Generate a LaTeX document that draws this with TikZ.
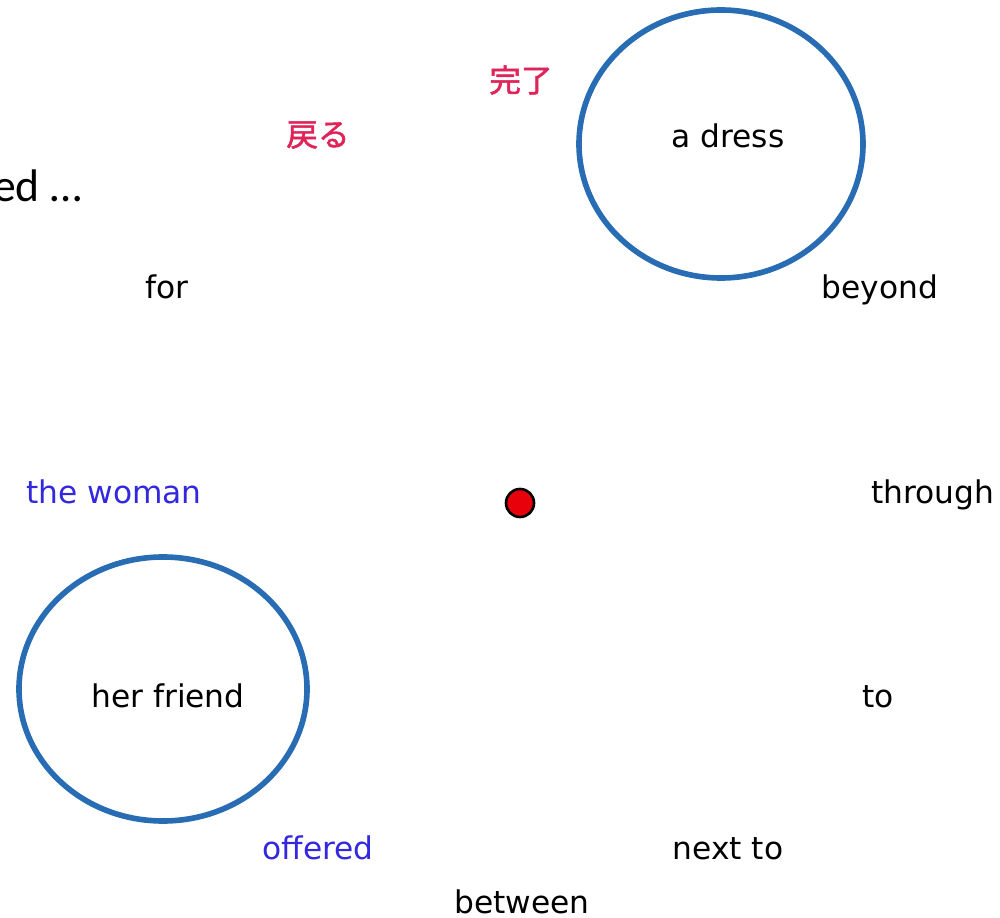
\documentclass[tikz,border=0pt]{standalone}
\usepackage{fontspec}
\setmainfont{DejaVu Sans}
\newfontfamily\cjkfont[FakeBold=1.6]{Noto Sans CJK JP}
\newfontfamily\calfont{Carlito}
\definecolor{ringblue}{RGB}{40,108,180}
\definecolor{wordblue}{RGB}{52,40,222}
\definecolor{wordred}{RGB}{222,36,88}
\definecolor{dotred}{RGB}{232,0,10}
\begin{document}
\begin{tikzpicture}[x=0.02cm,y=-0.02cm,
  ring/.style={draw=ringblue,line width=3.2pt},
  word/.style={inner sep=0pt,anchor=base,font=\fontsize{17.8}{20}\selectfont},
  jword/.style={inner sep=0pt,text=wordred,font=\cjkfont\fontsize{18}{20}\selectfont},
  dotstyle/.style={circle,fill=dotred,draw=black,line width=1.5pt,minimum size=0.56cm,inner sep=0pt}]
\useasboundingbox (0,0) rectangle (1000,918);
% rings
\draw[ring] (721,144) ellipse [x radius=142, y radius=134];
\draw[ring] (163,689) ellipse [x radius=144, y radius=132];
\coordinate (ringA) at (721,144);
\coordinate (ringB) at (163,689);
% texts
\node[inner sep=0pt,anchor=base east,font=\calfont\fontsize{26}{30}\selectfont] (ed) at (82,202) {ed …};
\node[jword] (kanryo) at (521,80) {完了};
\node[jword] (modoru) at (318,135) {戻る};
\node[word] (dress) at (728,148) {a dress};
\node[word] (for) at (167,299) {for};
\node[word] (beyond) at (880,299) {beyond};
\node[word,text=wordblue] (woman) at (114,503) {the woman};
\node[word] (through) at (933,503) {through};
\node[word] (friend) at (168,707) {her friend};
\node[word] (to) at (878,707) {to};
\node[word,text=wordblue] (offered) at (318,859) {offered};
\node[word] (nextto) at (728,859) {next to};
\node[word] (between) at (522,913) {between};
\node[dotstyle] (dot) at (520,503) {};
\end{tikzpicture}
\end{document}
